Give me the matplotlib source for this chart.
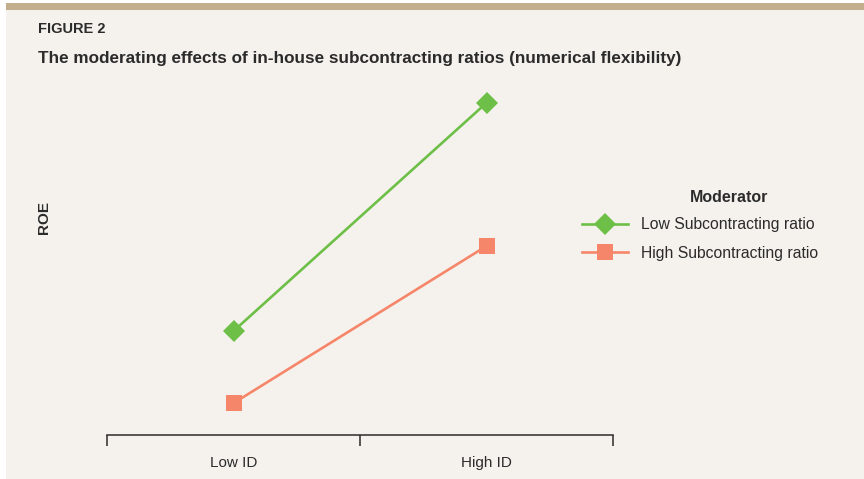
import matplotlib
matplotlib.use('Agg')
import matplotlib.pyplot as plt
from matplotlib.patches import Rectangle

plt.rcParams['font.family'] = ['Liberation Sans Narrow', 'Liberation Sans', 'DejaVu Sans']

categories = ['Low ID', 'High ID']
low_sub = [0.297, 0.949]
high_sub = [0.091, 0.540]
series_names = ['Low Subcontracting ratio', 'High Subcontracting ratio']

bg = '#f5f2ed'
green = '#6dbf47'
salmon = '#f5866a'
textc = '#2b2b2b'

fig = plt.figure(figsize=(8.64, 4.79), dpi=100, facecolor='white')

# beige panel + tan band on top
fig.patches.append(Rectangle((6 / 864, 0), 1, 476 / 479, transform=fig.transFigure,
                             facecolor=bg, edgecolor='none', zorder=-2))
fig.patches.append(Rectangle((6 / 864, 1 - 9.5 / 479), 1, 6.5 / 479, transform=fig.transFigure,
                             facecolor='#c2ae8d', edgecolor='none', zorder=-1))

fig.text(38 / 864, 1 - 29 / 479, 'FIGURE 2', fontsize=10.5, fontweight='bold',
         color=textc, va='center', ha='left')
fig.text(38 / 864, 1 - 58 / 479,
         'The moderating effects of in-house subcontracting ratios (numerical flexibility)',
         fontsize=12.3, fontweight='bold', color=textc, va='center', ha='left')

ax = fig.add_axes([107 / 864, 44 / 479, 506 / 864, 350 / 479])
ax.set_facecolor('none')

x = range(len(categories))
ax.plot(x, low_sub, '-', color=green, lw=1.9, marker='D', ms=11.5, mew=0,
        label=series_names[0], clip_on=False)
ax.plot(x, high_sub, '-', color=salmon, lw=1.9, marker='s', ms=11.5, mew=0,
        label=series_names[1], clip_on=False)

ax.set_xlim(-0.5, 1.5)
ax.set_ylim(0, 1)
for s in ['top', 'right', 'left']:
    ax.spines[s].set_visible(False)
ax.spines['bottom'].set_color(textc)
ax.spines['bottom'].set_linewidth(1.1)

ax.set_xticks([-0.5, 0.5, 1.5])
ax.set_xticklabels([])
ax.set_xticks([0, 1], minor=True)
ax.set_xticklabels(categories, minor=True)
ax.tick_params(axis='x', which='major', direction='out', length=8, width=1.1, color=textc)
ax.tick_params(axis='x', which='minor', length=0, pad=15, labelsize=11, labelcolor=textc)
ax.set_yticks([])

fig.text(44 / 864, 1 - 218 / 479, 'ROE', rotation=90, fontsize=11, fontweight='bold',
         color=textc, va='center', ha='center')

# legend title sits over the label column
fig.text(729 / 864, 1 - 197 / 479, 'Moderator', fontsize=11.5, fontweight='bold',
         color=textc, va='center', ha='center')
leg = fig.legend(loc='center left', bbox_to_anchor=(568 / 864, 1 - 239 / 479),
                 frameon=False, fontsize=11.3,
                 handlelength=2.9, handletextpad=0.85, labelspacing=0.85)
for t in leg.get_texts():
    t.set_color(textc)

fig.savefig('out.png', dpi=100, facecolor='white')
